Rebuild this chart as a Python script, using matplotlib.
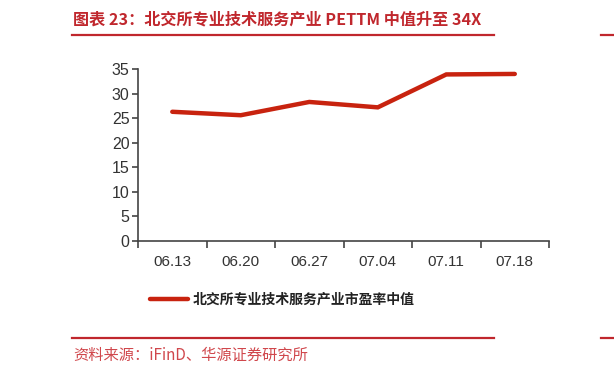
import matplotlib
matplotlib.use('Agg')
from matplotlib import pyplot as plt
from matplotlib.lines import Line2D
import numpy as np

plt.rcParams['font.family'] = ['Liberation Sans', 'Noto Sans CJK SC', 'DejaVu Sans']

dates = ['06.13', '06.20', '06.27', '07.04', '07.11', '07.18']
pe_median = [26.3, 25.6, 28.3, 27.2, 33.9, 34.0]
series_name = '北交所专业技术服务产业市盈率中值'
title = '图表 23：北交所专业技术服务产业 PETTM 中值升至 34X'
source = '资料来源：iFinD、华源证券研究所'
yticks = [0, 5, 10, 15, 20, 25, 30, 35]

red = '#c8230f'
deco_red = '#c0272d'

fig = plt.figure(figsize=(6.14, 3.77), dpi=100)
ax = fig.add_axes([0.2248, 0.3607, 0.6694, 0.4562])

x = np.arange(len(dates))
ax.plot(x, pe_median, color=red, linewidth=3.2, solid_capstyle='round',
        solid_joinstyle='miter', label=series_name)

ax.set_xlim(-0.5, len(dates) - 0.5)
ax.set_ylim(0, 35)
ax.set_yticks(yticks)
ax.set_xticks(np.arange(len(dates) + 1) - 0.5)
ax.set_xticklabels([])
ax.set_xticks(x, minor=True)
ax.set_xticklabels(dates, minor=True)
ax.tick_params(axis='x', which='major', length=5, width=1.2, color='#444444', direction='out')
ax.tick_params(axis='x', which='minor', length=0, pad=10, labelsize=11, labelcolor='#333333')
ax.tick_params(axis='y', length=4, width=1.2, color='#444444', labelsize=11.5,
               labelcolor='#333333', pad=2)

for s in ['top', 'right']:
    ax.spines[s].set_visible(False)
for s in ['left', 'bottom']:
    ax.spines[s].set_linewidth(1.2)
    ax.spines[s].set_color('#444444')

leg = ax.legend(loc='center', bbox_to_anchor=(0.46, 0.204), bbox_transform=fig.transFigure,
                frameon=False, handlelength=2.7, handletextpad=0.35,
                prop={'family': ['Noto Sans CJK SC'], 'size': 10, 'weight': 'bold'})
for t in leg.get_texts():
    t.set_color('#222222')

fig.text(0.119, 0.948, title, color=deco_red, fontsize=11.6, fontweight='bold',
         family=['Noto Sans CJK SC', 'DejaVu Sans'], va='center', ha='left')
fig.text(0.119, 0.058, source, color='#d0474c', fontsize=11, fontweight='light',
         family=['Noto Sans CJK SC', 'DejaVu Sans'], va='center', ha='left')

# header / footer rules
fig.add_artist(Line2D([0.117, 0.805], [0.907, 0.907], color=deco_red, linewidth=1.6))
fig.add_artist(Line2D([0.117, 0.805], [0.104, 0.104], color=deco_red, linewidth=1.6))
fig.add_artist(Line2D([0.979, 1.0], [0.907, 0.907], color=deco_red, linewidth=1.6))
fig.add_artist(Line2D([0.979, 1.0], [0.104, 0.104], color=deco_red, linewidth=1.6))

fig.savefig('out.png', dpi=100)
